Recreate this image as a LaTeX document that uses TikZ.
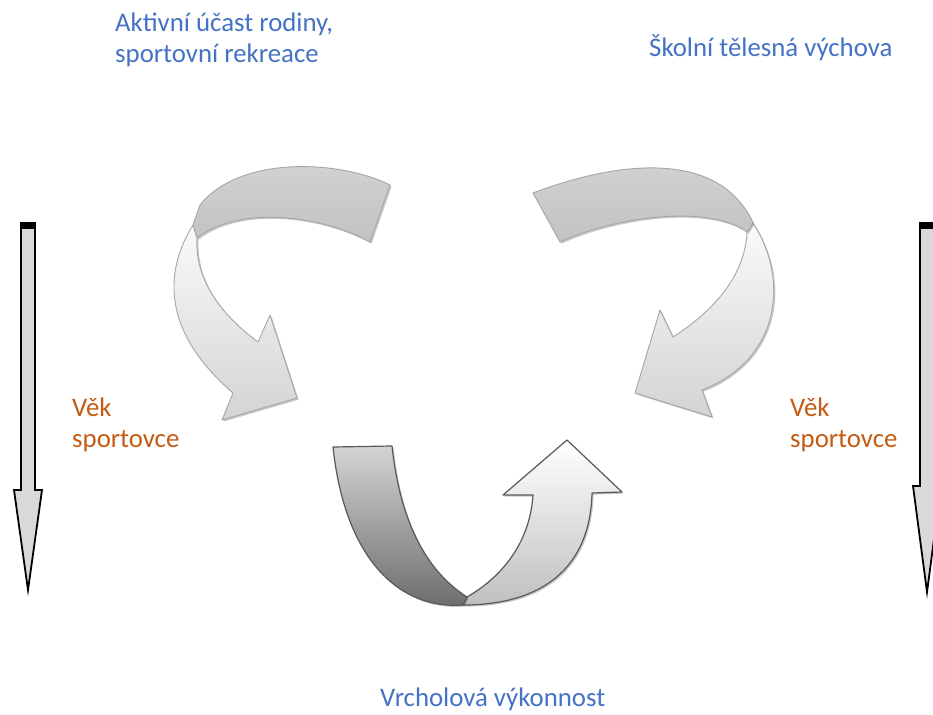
\documentclass[tikz,border=0pt]{standalone}
\usepackage{fontspec}
\setmainfont{Carlito}
\usetikzlibrary{shadows}
\definecolor{tblue}{HTML}{4472C4}
\definecolor{torange}{HTML}{C55A11}
\begin{document}
\begin{tikzpicture}[x=1pt,y=-1pt,
  lbl/.style={anchor=base west, inner sep=0pt, font=\fontsize{26.8}{31}\selectfont, align=left},
  bluetext/.style={lbl, text=tblue},
  orangetext/.style={lbl, text=torange},
  shd/.style={drop shadow={shadow xshift=1.6pt, shadow yshift=-1.6pt, opacity=0.3, fill=black!70}},
  topdark/.style={draw=black!35, line width=0.9pt, top color=black!17, bottom color=black!24, line join=round, shd},
  toplight/.style={draw=black!35, line width=0.9pt, top color=black!2, bottom color=black!17, line join=round, shd},
  botdark/.style={draw=black!65, line width=1.2pt, top color=black!17, bottom color=black!58, line join=round, shd},
  botlight/.style={draw=black!65, line width=1.2pt, top color=white, bottom color=black!25, line join=round, shd},
  agearrow/.style={draw=black, line width=1.8pt, fill=black!15, line join=miter}
]
\useasboundingbox (0,0) rectangle (933,714);
\fill[white] (0,0) rectangle (933,714);

% texts (anchored at the baseline of their last line)
\node[bluetext] (fam) at (115,63) {Aktivní účast rodiny,\\sportovní rekreace};
\node[bluetext] (school) at (649,57) {Školní tělesná výchova};
\node[orangetext] (ageL) at (72,447) {Věk\\sportovce};
\node[orangetext] (ageR) at (790,447) {Věk\\sportovce};
\node[bluetext] (top) at (380,706) {Vrcholová výkonnost};

% age arrows
\path[agearrow] (21,226) -- (35,226) -- (35,490) -- (42,490) -- (28,590) -- (14,490) -- (21,490) -- cycle;
\fill[black] (20,222) rectangle (36,229);
\path[agearrow] (920,226) -- (934,226) -- (934,486) -- (941,486) -- (927,592) -- (913,486) -- (920,486) -- cycle;
\fill[black] (919,222) rectangle (935,229);

% top-left arrow
\path[toplight] (193,225) .. controls (165,270) and (160,330) .. (233,393)
  -- (222,420) -- (297,398) -- (270,315) -- (258,342)
  .. controls (215,310) and (195,275) .. (197,238) -- cycle;
\path[topdark] (390,185) .. controls (340,160) and (240,155) .. (200,205)
  -- (193,225) -- (197,238)
  .. controls (240,205) and (320,215) .. (370,242) -- cycle;

% top-right arrow
\path[toplight] (753,223) .. controls (790,280) and (780,360) .. (702,390)
  -- (712,417) -- (635,393) -- (660,310) -- (673,337)
  .. controls (715,310) and (745,275) .. (747,232) -- cycle;
\path[topdark] (533,193) .. controls (620,160) and (720,150) .. (753,223)
  -- (747,232)
  .. controls (710,205) and (620,215) .. (560,242) -- cycle;

% bottom arrow
\path[botlight] (467,597) .. controls (505,575) and (530,540) .. (533,495)
  -- (503,495) -- (567,440) -- (622,492) -- (592,493)
  .. controls (590,570) and (540,605) .. (463,605) -- cycle;
\path[botdark] (333,447) -- (392,446)
  .. controls (400,520) and (425,570) .. (467,597)
  -- (463,605)
  .. controls (400,610) and (345,560) .. (333,447) -- cycle;
\end{tikzpicture}
\end{document}
